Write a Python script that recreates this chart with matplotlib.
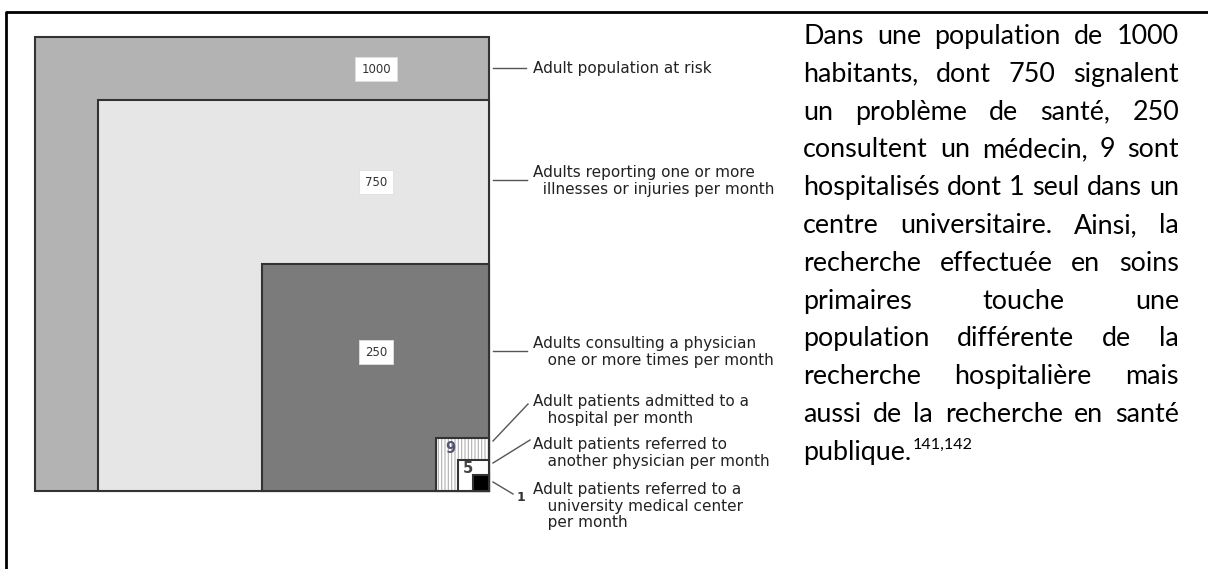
import matplotlib
matplotlib.use('Agg')
import matplotlib.pyplot as plt
from matplotlib.patches import Rectangle

# nested squares: population counts per month
counts = [1000, 750, 250, 9, 5, 1]
fills = ['#b3b3b3', '#e6e6e6', '#7b7b7b', 'white', 'white', 'black']
captions = [
    'Adult population at risk',
    'Adults reporting one or more\n  illnesses or injuries per month',
    'Adults consulting a physician\n   one or more times per month',
    'Adult patients admitted to a\n   hospital per month',
    'Adult patients referred to\n   another physician per month',
    'Adult patients referred to a\n   university medical center\n   per month',
]
paragraph = [
    'Dans une population de 1000',
    'habitants, dont 750 signalent',
    'un problème de santé, 250',
    'consultent un médecin, 9 sont',
    'hospitalisés dont 1 seul dans un',
    'centre universitaire. Ainsi, la',
    'recherche effectuée en soins',
    'primaires touche une',
    'population différente de la',
    'recherche hospitalière mais',
    'aussi de la recherche en santé',
    'publique.',
]
footnote = '141,142'

# layout (pixels)
W, H = 1208, 569
corner = (489, 491)
sides = [454, 391, 227, 53, 31, 16]

fig = plt.figure(figsize=(W / 100, H / 100), dpi=100)
ax = fig.add_axes([0, 0, 1, 1])
ax.set_xlim(0, W)
ax.set_ylim(H, 0)
ax.axis('off')

# outer frame (open at right / bottom)
ax.plot([6, 6, W], [H, 12, 12], color='black', lw=2, solid_capstyle='butt')

plt.rcParams['hatch.linewidth'] = 0.8
for i, (n, s, fc) in enumerate(zip(counts, sides, fills)):
    x0, y0 = corner[0] - s, corner[1] - s
    if n == 9:
        ax.add_patch(Rectangle((x0, y0), s, s, facecolor='white', edgecolor='#b0b0b0',
                               hatch='|||||', lw=0, zorder=i + 1))
        ax.add_patch(Rectangle((x0, y0), s, s, facecolor='none', edgecolor='#333333',
                               lw=1.5, zorder=i + 1.5))
    else:
        ax.add_patch(Rectangle((x0, y0), s, s, facecolor=fc, edgecolor='#333333',
                               lw=1.5, zorder=i + 1))

cfont = 'DejaVu Sans'
for n, y in zip(counts[:3], [69, 182, 352]):
    ax.text(376, y, str(n), ha='center', va='center', fontsize=8.5, zorder=10,
            color='#333333', family=cfont,
            bbox=dict(boxstyle='square,pad=0.5', fc='white', ec='#e0e0e0', lw=0.6))
ax.text(445, 448, str(counts[3]), ha='left', va='center', fontsize=10.5, zorder=10,
        fontweight='bold', color='#555570', family=cfont)
ax.text(463, 468, str(counts[4]), ha='left', va='center', fontsize=10.5, zorder=10,
        fontweight='bold', color='#444444', family=cfont)
ax.text(517, 497, str(counts[5]), ha='left', va='center', fontsize=9,
        fontweight='bold', color='#333333', family=cfont)

# leader lines and captions
lead = '#555555'
leaders = [((493, 526), (68, 68)), ((493, 527), (180, 180)), ((493, 527), (351, 351)),
           ((493, 528), (441, 404)), ((493, 530), (463, 440)), ((493, 513), (482, 494))]
cap_y = [68, 181, 352, 410, 453, 506]
for (xs, ys), cap, y in zip(leaders, captions, cap_y):
    ax.plot(xs, ys, color=lead, lw=1)
    ax.text(533, y, cap, ha='left', va='center', fontsize=11, linespacing=1.1,
            color='#222222', family=cfont)

# justified paragraph on the right
left, right = 803, 1179
base0, step = 44, 37.8
renderer = fig.canvas.get_renderer()

# fit font size so the tightest line fills the column
probe = ax.text(0, 0, paragraph[4], family='Lato', fontsize=15)
psize = 15 * (right - left) / probe.get_window_extent(renderer).width
probe.remove()

for i, line in enumerate(paragraph):
    y = base0 + step * i
    words = line.split(' ')
    texts = [ax.text(left, y, w, ha='left', va='baseline', family='Lato',
                     fontsize=psize, color='black') for w in words]
    widths = [t.get_window_extent(renderer).width for t in texts]
    if len(words) > 1 and i < len(paragraph) - 1:
        gap = (right - left - sum(widths)) / (len(words) - 1)
        x = left
        for t, w in zip(texts, widths):
            t.set_x(x)
            x += w + gap
    else:
        ax.text(left + widths[0] + 1, y - 11, footnote, ha='left', va='baseline',
                family='Lato', fontsize=psize * 0.6, color='black')

fig.savefig('out.png', dpi=100)
